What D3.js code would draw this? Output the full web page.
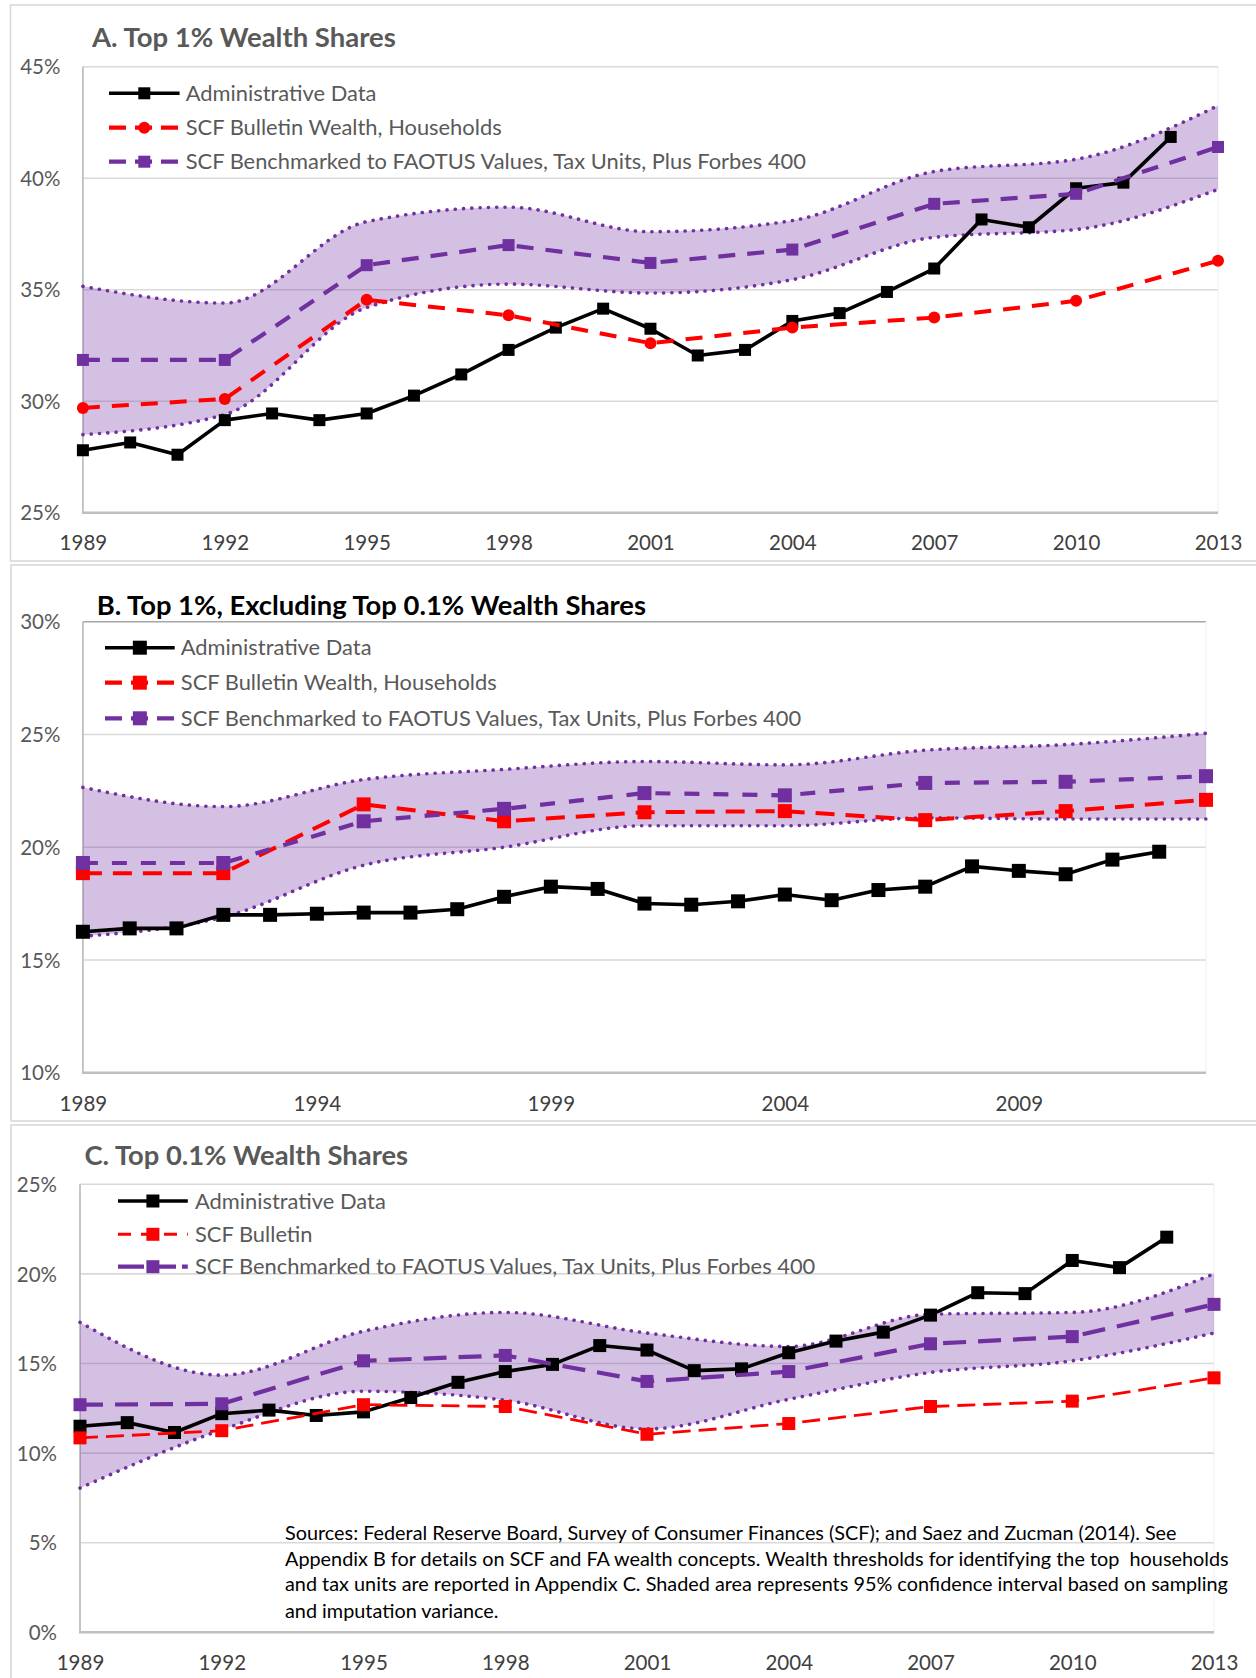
<!DOCTYPE html>
<html><head><meta charset="utf-8">
<script src="https://cdn.jsdelivr.net/npm/d3@7"></script>
<style>
body{margin:0;background:#fff}
svg{display:block}
text{font-family:Lato,"Open Sans",sans-serif;white-space:pre}
</style>
</head><body>
<svg id="chart" width="1256" height="1678"></svg>
<script>
// ---------- DATA ----------
const surveyYears = [1989,1992,1995,1998,2001,2004,2007,2010,2013];
const adminYears = [1989,1990,1991,1992,1993,1994,1995,1996,1997,1998,1999,2000,2001,2002,2003,2004,2005,2006,2007,2008,2009,2010,2011,2012];

// Panel A: Top 1%
const aAdmin    = [27.8,28.15,27.6,29.15,29.45,29.15,29.45,30.25,31.2,32.3,33.3,34.15,33.25,32.05,32.3,33.6,33.95,34.9,35.95,38.15,37.8,39.55,39.8,41.85];
const aBulletin = [29.7,30.1,34.55,33.85,32.6,33.3,33.75,34.5,36.3];
const aBench    = [31.85,31.85,36.1,37.0,36.2,36.8,38.85,39.3,41.4];
const aBandHi   = [35.15,34.4,38.05,38.7,37.6,38.1,40.3,40.85,43.25];
const aBandLo   = [28.5,29.4,34.2,35.25,34.85,35.45,37.35,37.7,39.5];
const aTicksY   = [25,30,35,40,45];
const aTicksX   = [1989,1992,1995,1998,2001,2004,2007,2010,2013];
const aLegend   = ["Administrative Data","SCF Bulletin Wealth, Households","SCF Benchmarked to FAOTUS Values, Tax Units, Plus Forbes 400"];

// Panel B: Top 1% excluding top 0.1%
const bAdmin    = [16.25,16.4,16.4,17.0,17.0,17.05,17.1,17.1,17.25,17.8,18.25,18.15,17.5,17.45,17.6,17.9,17.65,18.1,18.25,19.15,18.95,18.8,19.45,19.8];
const bBulletin = [18.85,18.85,21.9,21.15,21.55,21.6,21.2,21.6,22.1];
const bBench    = [19.3,19.3,21.15,21.7,22.4,22.3,22.85,22.9,23.15];
const bBandHi   = [22.65,21.8,23.0,23.45,23.8,23.65,24.3,24.55,25.05];
const bBandLo   = [16.05,16.9,19.2,20.0,20.95,20.95,21.3,21.25,21.25];
const bTicksY   = [10,15,20,25,30];
const bTicksX   = [1989,1994,1999,2004,2009];
const bLegend   = ["Administrative Data","SCF Bulletin Wealth, Households","SCF Benchmarked to FAOTUS Values, Tax Units, Plus Forbes 400"];

// Panel C: Top 0.1%
const cAdmin    = [11.5,11.7,11.15,12.2,12.4,12.1,12.3,13.1,13.95,14.55,14.95,16.0,15.75,14.6,14.7,15.6,16.25,16.75,17.7,18.95,18.9,20.75,20.35,22.05];
const cBulletin = [10.85,11.25,12.7,12.6,11.05,11.65,12.6,12.9,14.2];
const cBench    = [12.7,12.75,15.15,15.45,14.0,14.55,16.1,16.5,18.3];
const cBandHi   = [17.3,14.35,16.8,17.85,16.7,15.95,17.75,17.85,20.0];
const cBandLo   = [8.05,11.3,13.45,12.95,11.35,13.0,14.5,15.15,16.7];
const cTicksY   = [0,5,10,15,20,25];
const cTicksX   = [1989,1992,1995,1998,2001,2004,2007,2010,2013];
const cLegend   = ["Administrative Data","SCF Bulletin","SCF Benchmarked to FAOTUS Values, Tax Units, Plus Forbes 400"];

const titles = ["A. Top 1% Wealth Shares","B. Top 1%, Excluding Top 0.1% Wealth Shares","C. Top 0.1% Wealth Shares"];
const sourceLines = [
  "Sources: Federal Reserve Board, Survey of Consumer Finances (SCF); and Saez and Zucman (2014). See",
  "Appendix B for details on SCF and FA wealth concepts. Wealth thresholds for identifying the top  households",
  "and tax units are reported in Appendix C. Shaded area represents 95% confidence interval based on sampling",
  "and imputation variance."
];

// ---------- STYLE / LAYOUT ----------
const GRAY_TEXT = "#595959", GRID = "#d9d9d9", AXIS = "#bfbfbf";
const PURPLE = "#7030a0", RED = "#ff0000", BLACK = "#000000";

const panels = [
  { box:[10.5,5,1260,556], plot:{x0:82.9,x1:1218,yTop:66.7,yBot:512.7}, dom:[25,45],
    title:{x:92,y:46.7,w:304,color:GRAY_TEXT}, xLabelY:543.3, yLabelX:60.4,
    legend:{x0:109,x1:179.6,tx:185.7,ys:[93.3,127.7,161.7],w3:621},
    topLine:GRID,
    admin:aAdmin, bull:aBulletin, bench:aBench, hi:aBandHi, lo:aBandLo,
    ticksY:aTicksY, ticksX:aTicksX, leg:aLegend,
    bullMarker:"circle", bullDash:"17 12", bullW:4, benchDash:"17 12", benchW:4.2, mk:12 },
  { box:[11,565,1260,556], plot:{x0:82.9,x1:1206,yTop:621.7,yBot:1072.7}, dom:[10,30],
    title:{x:96.7,y:615,w:549.7,color:"#000"}, xLabelY:1104, yLabelX:60.4,
    legend:{x0:105,x1:174.7,tx:180.8,ys:[647.7,682.7,718.3],w3:621},
    topLine:"#a6a6a6",
    admin:bAdmin, bull:bBulletin, bench:bBench, hi:bBandHi, lo:bBandLo,
    ticksY:bTicksY, ticksX:bTicksX, leg:bLegend,
    bullMarker:"square", bullDash:"19 11", bullW:4, benchDash:"15 14", benchW:4.2, mk:14 },
  { box:[11,1125,1260,600], plot:{x0:80,x1:1214,yTop:1184.3,yBot:1632.3}, dom:[0,25],
    title:{x:84.5,y:1165,w:323.7,color:GRAY_TEXT}, xLabelY:1663.3, yLabelX:57,
    legend:{x0:118,x1:187.8,tx:195,ys:[1201,1234.3,1266.7],w3:620.5},
    topLine:GRID,
    admin:cAdmin, bull:cBulletin, bench:cBench, hi:cBandHi, lo:cBandLo,
    ticksY:cTicksY, ticksX:cTicksX, leg:cLegend,
    bullMarker:"square", bullDash:"18 8", bullW:2.8, benchDash:"23 12", benchW:4.2, mk:13 }
];

const svg = d3.select("#chart");
svg.append("rect").attr("width",1256).attr("height",1678).attr("fill","#fff");

function fitFont(sel, target){
  const w = sel.node().getComputedTextLength();
  const fs = parseFloat(sel.attr("font-size"));
  const nfs = fs*target/w;
  sel.attr("font-size", nfs);
  return nfs;
}

function drawMarker(g, shape, cx, cy, size, color){
  if(shape==="circle"){
    g.append("circle").attr("cx",cx).attr("cy",cy).attr("r",size/2).attr("fill",color);
  } else {
    g.append("rect").attr("x",cx-size/2).attr("y",cy-size/2).attr("width",size).attr("height",size).attr("fill",color);
  }
}

panels.forEach((p,i)=>{
  const g = svg.append("g");
  g.append("rect").attr("x",p.box[0]).attr("y",p.box[1]).attr("width",p.box[2]).attr("height",p.box[3])
    .attr("fill","none").attr("stroke","#d9d9d9").attr("stroke-width",1.6);

  const x = d3.scaleLinear().domain([1989,2013]).range([p.plot.x0,p.plot.x1]);
  const y = d3.scaleLinear().domain(p.dom).range([p.plot.yBot,p.plot.yTop]);

  g.append("g").selectAll("line").data(p.ticksY.slice(1)).join("line")
    .attr("x1",p.plot.x0).attr("x2",p.plot.x1)
    .attr("y1",d=>y(d)).attr("y2",d=>y(d))
    .attr("stroke",d=> d===p.dom[1] ? p.topLine : GRID).attr("stroke-width",1.6);
  g.append("line").attr("x1",p.plot.x1).attr("x2",p.plot.x1).attr("y1",p.plot.yTop).attr("y2",p.plot.yBot)
    .attr("stroke","#eeeef4").attr("stroke-width",1);

  const ya = g.append("g").attr("transform",`translate(${p.plot.x0},0)`)
    .call(d3.axisLeft(y).tickValues(p.ticksY).tickSize(0).tickPadding(p.plot.x0-p.yLabelX).tickFormat(d=>d+"%"));
  ya.select(".domain").remove();
  ya.selectAll("text").attr("font-family","Lato").attr("font-size",20.5).attr("fill",GRAY_TEXT).attr("dy","0.35em");

  const xa = g.append("g").attr("transform",`translate(0,${p.plot.yBot})`)
    .call(d3.axisBottom(x).tickValues(p.ticksX).tickSize(0).tickFormat(d3.format("d")));
  xa.select(".domain").remove();
  xa.selectAll("text").attr("font-family","Lato").attr("font-size",20.5).attr("fill","#404040")
    .attr("y",p.xLabelY-p.plot.yBot).attr("dy","0.35em");

  g.append("line").attr("x1",p.plot.x0).attr("x2",p.plot.x0).attr("y1",p.plot.yTop).attr("y2",p.plot.yBot)
    .attr("stroke",AXIS).attr("stroke-width",1.8);
  g.append("line").attr("x1",p.plot.x0-1).attr("x2",p.plot.x1).attr("y1",p.plot.yBot).attr("y2",p.plot.yBot)
    .attr("stroke",AXIS).attr("stroke-width",2.6);

  const bandCurve = d3.curveMonotoneX;
  const band = surveyYears.map((yr,j)=>({yr,hi:p.hi[j],lo:p.lo[j]}));
  g.append("path").datum(band)
    .attr("d", d3.area().x(d=>x(d.yr)).y0(d=>y(d.lo)).y1(d=>y(d.hi)).curve(bandCurve))
    .attr("fill",PURPLE).attr("fill-opacity",0.3);
  ["hi","lo"].forEach(k=>{
    g.append("path").datum(band)
      .attr("d", d3.line().x(d=>x(d.yr)).y(d=>y(d[k])).curve(bandCurve))
      .attr("fill","none").attr("stroke",PURPLE).attr("stroke-width",3.6)
      .attr("stroke-dasharray","0.1 8.2").attr("stroke-linecap","round");
  });

  const adm = adminYears.map((yr,j)=>({yr,v:p.admin[j]}));
  g.append("path").datum(adm)
    .attr("d", d3.line().x(d=>x(d.yr)).y(d=>y(d.v)))
    .attr("fill","none").attr("stroke",BLACK).attr("stroke-width",3.6).attr("stroke-linejoin","round");
  const admM = g.append("g");
  adm.forEach(d=>drawMarker(admM,"square",x(d.yr),y(d.v),p.mk,BLACK));

  const bul = surveyYears.map((yr,j)=>({yr,v:p.bull[j]}));
  g.append("path").datum(bul)
    .attr("d", d3.line().x(d=>x(d.yr)).y(d=>y(d.v)))
    .attr("fill","none").attr("stroke",RED).attr("stroke-width",p.bullW).attr("stroke-dasharray",p.bullDash);
  const bulM = g.append("g");
  bul.forEach(d=>drawMarker(bulM,p.bullMarker,x(d.yr),y(d.v),p.mk,RED));

  const ben = surveyYears.map((yr,j)=>({yr,v:p.bench[j]}));
  g.append("path").datum(ben)
    .attr("d", d3.line().x(d=>x(d.yr)).y(d=>y(d.v)))
    .attr("fill","none").attr("stroke",PURPLE).attr("stroke-width",p.benchW).attr("stroke-dasharray",p.benchDash);
  const benM = g.append("g");
  ben.forEach(d=>drawMarker(benM,"square",x(d.yr),y(d.v),p.mk,PURPLE));

  const t = g.append("text").attr("x",p.title.x).attr("y",p.title.y)
    .attr("font-weight","bold").attr("font-size",25).attr("fill",p.title.color).text(titles[i]);
  fitFont(t,p.title.w);

  const L = p.legend;
  const lg = g.append("g");
  const styles = [
    {stroke:BLACK,w:3.6,dash:null,shape:"square"},
    {stroke:RED,w:p.bullW+0.2,dash:p.bullDash,shape:p.bullMarker},
    {stroke:PURPLE,w:p.benchW,dash:p.benchDash,shape:"square"}
  ];
  const texts = [];
  p.leg.forEach((lab,j)=>{
    const st = styles[j], yy = L.ys[j];
    const ln = lg.append("line").attr("x1",L.x0).attr("x2",L.x1).attr("y1",yy).attr("y2",yy)
      .attr("stroke",st.stroke).attr("stroke-width",st.w);
    if(st.dash) ln.attr("stroke-dasharray", i===2 && j===2 ? "26 6" : (i===2 ? "13 10" : "17 9"));
    drawMarker(lg,st.shape,(L.x0+L.x1)/2,yy,p.mk,st.stroke);
    texts.push(lg.append("text").attr("x",L.tx).attr("y",yy).attr("dy","0.35em")
      .attr("font-size",20).attr("fill",GRAY_TEXT).text(lab));
  });
  const fs = fitFont(texts[2],L.w3);
  texts.forEach(tt=>tt.attr("font-size",fs));

  if(i===2){
    const lineYs = [1532.7,1558.7,1584.3,1610.7];
    const st = sourceLines.map((s,j)=> g.append("text").attr("x",285).attr("y",lineYs[j]).attr("dy","0.35em")
      .attr("font-size",19).attr("fill","#000").text(s));
    const sfs = fitFont(st[2],943.5);
    st.forEach(s=>s.attr("font-size",sfs));
  }
});
</script>
</body></html>
